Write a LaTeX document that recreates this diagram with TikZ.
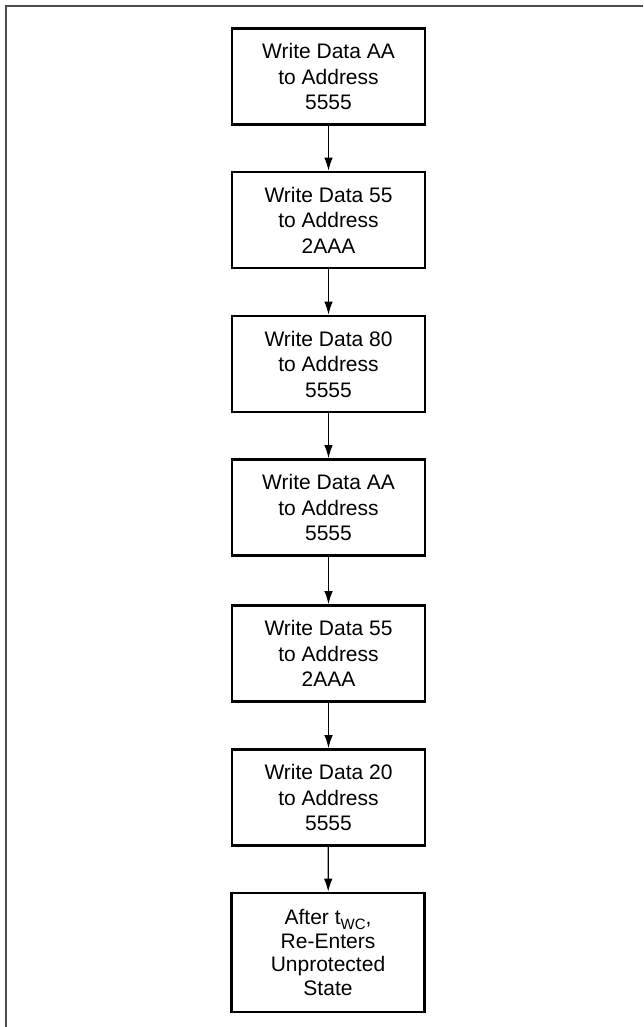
\documentclass[tikz,border=0pt]{standalone}
\usepackage{fontspec}
\setmainfont{Liberation Sans}
\usetikzlibrary{arrows.meta}
\begin{document}
\begin{tikzpicture}[x=1pt,y=-1pt,
  stepbox/.style={draw=black, line width=2.6pt, rectangle, minimum width=193pt,
    minimum height=96pt, inner sep=0pt, align=center,
    font=\fontsize{21}{25.5}\selectfont},
  flow/.style={line width=1.3pt, -{Latex[length=13pt,width=8.5pt]}},
  frameline/.style={line width=2pt, draw=black!70}]
\useasboundingbox (0,0) rectangle (643,1027);
\draw[frameline] (5.7,1027) -- (5.7,6.5) -- (643,6.5);
\node[stepbox] (b1) at (328.5,76.5) {Write Data AA\\to Address\\5555};
\node[stepbox] (b2) at (328.5,220) {Write Data 55\\to Address\\2AAA};
\node[stepbox] (b3) at (328.5,364) {Write Data 80\\to Address\\5555};
\node[stepbox] (b4) at (328.5,507.5) {Write Data AA\\to Address\\5555};
\node[stepbox] (b5) at (328.5,653.5) {Write Data 55\\to Address\\2AAA};
\node[stepbox] (b6) at (328.5,797.5) {Write Data 20\\to Address\\5555};
\node[stepbox, minimum height=119pt, font=\fontsize{21}{23.5}\selectfont] (b7) at (328,952.5)
  {After t\raisebox{-5pt}{\fontsize{15}{15}\selectfont WC},\\Re-Enters\\Unprotected\\State};
\draw[flow] (b1) -- (b2);
\draw[flow] (b2) -- (b3);
\draw[flow] (b3) -- (b4);
\draw[flow] (b4) -- (b5);
\draw[flow] (b5) -- (b6);
\draw[flow] (b6) -- (b7);
\end{tikzpicture}
\end{document}
